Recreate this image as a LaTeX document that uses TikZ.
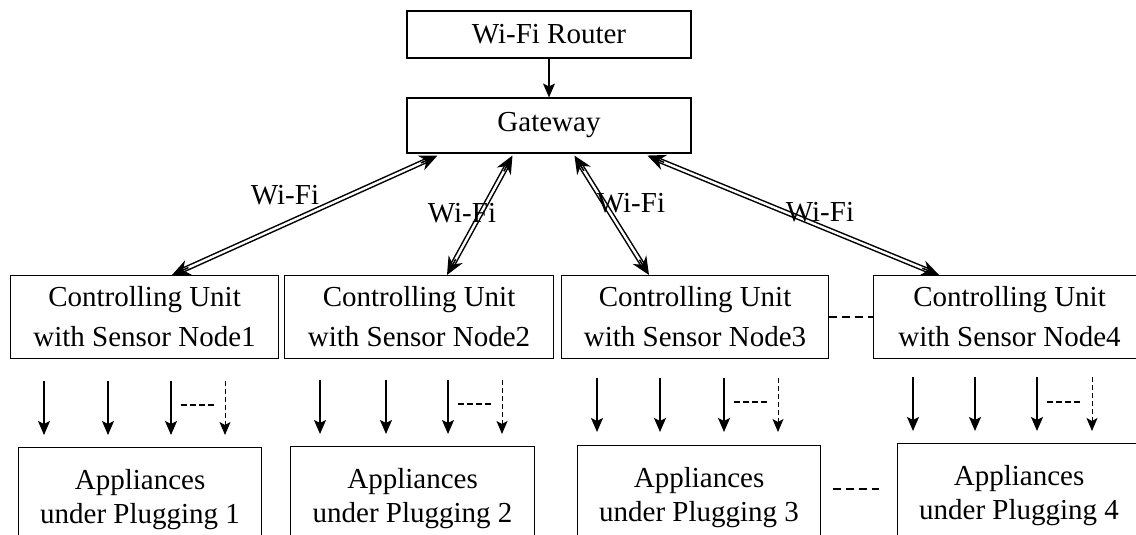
\documentclass[tikz,border=0pt]{standalone}
\usepackage{fontspec}
\setmainfont{Liberation Serif}
\usetikzlibrary{arrows.meta,calc}

\begin{document}
\begin{tikzpicture}[x=1pt,y=-1pt,
  box/.style={draw, line width=1.1pt, inner sep=0pt, align=center,
    font=\fontsize{29}{40}\selectfont},
  cubox/.style={box, minimum height=83pt},
  apbox/.style={box, minimum height=104pt, font=\fontsize{29}{34}\selectfont},
  lbl/.style={inner sep=0pt, font=\fontsize{29}{34}\selectfont},
  wifiline/.style={line width=1.5pt, double, double distance=2.4pt,
    shorten <=12pt, shorten >=12pt},
  wifitip/.style={line width=1.5pt, -{Stealth[length=18pt,width=16pt,inset=6pt]}},
  feed/.style={line width=1.4pt, -{Stealth[length=14pt,width=12pt,inset=3pt]}},
  dfeed/.style={line width=1pt, dash pattern=on 5pt off 3pt,
    -{Stealth[length=13pt,width=11pt,inset=3pt]}},
  gap/.style={line width=1.4pt, dash pattern=on 6pt off 3pt},
  more/.style={line width=1.5pt, dash pattern=on 8pt off 5pt}
]
\useasboundingbox (0,0) rectangle (1136,535);
\clip (0,0) rectangle (1136,535);

% top of the hierarchy
\node[box, minimum width=284pt, minimum height=47pt] (router) at (549,34.5) {Wi-Fi Router};
\node[box, minimum width=284pt, minimum height=55pt] (gw) at (549,125.5) {Gateway};
\draw[feed] (router.south) -- (gw.north);

% controlling units
\node[cubox, minimum width=268pt, anchor=north west] (cu1) at (10,275)  {Controlling Unit\\with Sensor Node1};
\node[cubox, minimum width=269pt, anchor=north west] (cu2) at (284,275) {Controlling Unit\\with Sensor Node2};
\node[cubox, minimum width=267pt, anchor=north west] (cu3) at (561,275) {Controlling Unit\\with Sensor Node3};
\node[cubox, minimum width=272pt, anchor=north west] (cu4) at (873,275) {Controlling Unit\\with Sensor Node4};
\draw[more] (cu3.east) -- (cu4.west);

% wireless links: double line, a solid head at each end
\coordinate (g1) at ($(gw.south west)+(31,2)$);
\coordinate (g2) at ($(gw.south west)+(106,2)$);
\coordinate (g3) at ($(gw.south west)+(168,2)$);
\coordinate (g4) at ($(gw.south west)+(241,2)$);
\coordinate (c1) at ($(cu1.north west)+(162,0)$);
\coordinate (c2) at ($(cu2.north west)+(163,0)$);
\coordinate (c3) at ($(cu3.north west)+(88,0)$);
\coordinate (c4) at ($(cu4.north west)+(66,0)$);
\foreach \i in {1,2,3,4}{
  \draw[wifiline] (g\i) -- (c\i);
  \draw[wifitip] ($(g\i)!18pt!(c\i)$) -- (g\i);
  \draw[wifitip] ($(c\i)!18pt!(g\i)$) -- (c\i);
}
\node[lbl] (w1) at (285,195) {Wi-Fi};
\node[lbl] (w2) at (462,213) {Wi-Fi};
\node[lbl] (w3) at (631,203) {Wi-Fi};
\node[lbl] (w4) at (820,212) {Wi-Fi};

% appliance groups
\node[apbox, minimum width=243pt, anchor=north west] (ap1) at (18,447)  {Appliances\\under Plugging 1};
\node[apbox, minimum width=244pt, anchor=north west] (ap2) at (290,446) {Appliances\\under Plugging 2};
\node[apbox, minimum width=243pt, anchor=north west] (ap3) at (577,445) {Appliances\\under Plugging 3};
\node[apbox, minimum width=243pt, anchor=north west] (ap4) at (897,443) {Appliances\\under Plugging 4};
\coordinate (m1) at ($(ap3.north east)+(12,44)$);
\coordinate (m2) at ($(ap4.north west)+(-18,46)$);
\draw[more] (m1) -- (m2);

% supply lines into each group
\foreach \a/\b/\c/\d/\top/\bot/\mid in {44/108/171/225/381/435/405,
                                       320/386/448/502/380/434/404,
                                       597/660/724/778/378/432/402,
                                       913/975/1037/1092/377/431/402}{
  \draw[feed] (\a,\top) -- (\a,\bot);
  \draw[feed] (\b,\top) -- (\b,\bot);
  \draw[feed] (\c,\top) -- (\c,\bot);
  \draw[dfeed] (\d,\top) -- (\d,\bot);
  \draw[gap] (\c+10,\mid) -- (\d-10,\mid);
}
\end{tikzpicture}
\end{document}
